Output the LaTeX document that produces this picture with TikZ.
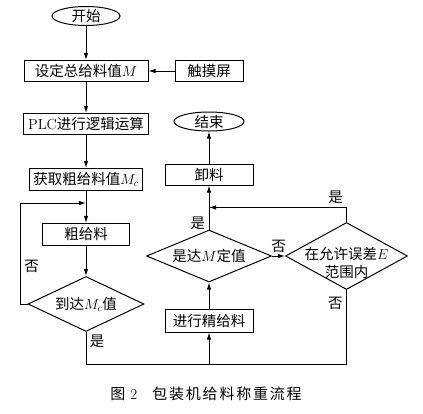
\documentclass[tikz,border=0pt]{standalone}
\usepackage{fontspec}
\newfontfamily\cjk{Noto Sans CJK SC}
\newfontfamily\cjkwide[LetterSpace=12]{Noto Sans CJK SC}
\usetikzlibrary{
	positioning,
	arrows.meta,
	calc,
	shapes.geometric
}

\tikzset{
	box/.style={draw, rectangle, line width=1pt, minimum height=21pt, inner sep=0pt},
	terminal/.style={draw, ellipse, line width=1pt, minimum height=19pt, inner sep=-1pt},
	decision/.style={draw, diamond, line width=1pt, aspect=2, inner sep=-8pt},
	arr/.style={line width=1pt, -{Latex[length=2.5mm,width=1.6mm]}},
	link/.style={line width=1pt}
}

\begin{document}
\begin{tikzpicture}[x=1pt,y=1pt,font=\fontsize{14.5}{18}\selectfont\cjk]
	\useasboundingbox (0,0) rectangle (423,-413);

	\node[terminal, minimum width=68pt] (start) at (86,-16) {开始};
	\node[box, minimum width=124pt, below=34pt of start] (setM) {设定总给料值$M$};
	\node[box, minimum width=68pt, right=26pt of setM] (touch) {触摸屏};
	\node[box, minimum width=125pt, below=31pt of setM] (plc) {{\rmfamily PLC}进行逻辑运算};
	\node[box, minimum width=113pt, minimum height=22pt, below=33pt of plc] (getMc) {获取粗给料值$M_c$};
	\node[box, minimum width=87pt, minimum height=22pt, below=32pt of getMc] (coarse) {粗给料};
	\node[decision, minimum width=116pt, minimum height=55pt, below=30pt of coarse] (reach) {到达$M_c$值};

	\node[decision, minimum width=125pt, minimum height=52pt] (isM) at (209,-256) {是达$M$定值};
	\node[box, minimum width=88pt, above=44pt of isM] (unload) {卸料};
	\node[terminal, minimum width=70pt, above=32pt of unload] (finish) {结束};
	\node[box, minimum width=88pt, minimum height=23pt, below=26pt of isM] (fine) {进行精给料};
	\node[decision, inner sep=0pt, minimum width=122pt, minimum height=67pt, right=13pt of isM] (inrange)
		{\raisebox{-12pt}[0pt][0pt]{\begin{tabular}{@{}c@{}}在允许误差$E$\\范围内\end{tabular}}};

	\draw[arr] (start) -- (setM);
	\draw[arr] (touch) -- (setM);
	\draw[arr] (setM) -- (plc);
	\draw[arr] (plc) -- (getMc);
	\draw[arr] (getMc) -- (coarse);
	\draw[arr] (coarse) -- (reach);

	\coordinate (loopin) at ($(getMc.south)!0.375!(coarse.north)$);
	\draw[arr] (reach.west) -- ++(-7pt,0) |- node[pos=0.185, right] {否} (loopin);

	\coordinate (base) at ($(reach.south)+(0,-32pt)$);
	\draw[arr] (reach.south) -- node[pos=0.3, right] {是} (base) -| (fine.south);
	\draw[link] (inrange.south) |- node[pos=0.09, left] {否} (base -| fine.south);

	\draw[arr] (fine) -- (isM);
	\draw[arr] (isM) -- node[pos=0.14, left] {是} (unload);
	\draw[arr] (unload) -- (finish);
	\draw[arr] (isM) -- node[above] {否} (inrange);

	\coordinate (backin) at ($(unload.south)!0.5!(isM.north)$);
	\draw[arr] (inrange.north) |- node[pos=0.54, above] {是} (backin);

	\node[font=\fontsize{15}{18}\selectfont\cjkwide] (caption) at (206,-394) {图 {\rmfamily 2}\quad 包装机给料称重流程};
\end{tikzpicture}
\end{document}
